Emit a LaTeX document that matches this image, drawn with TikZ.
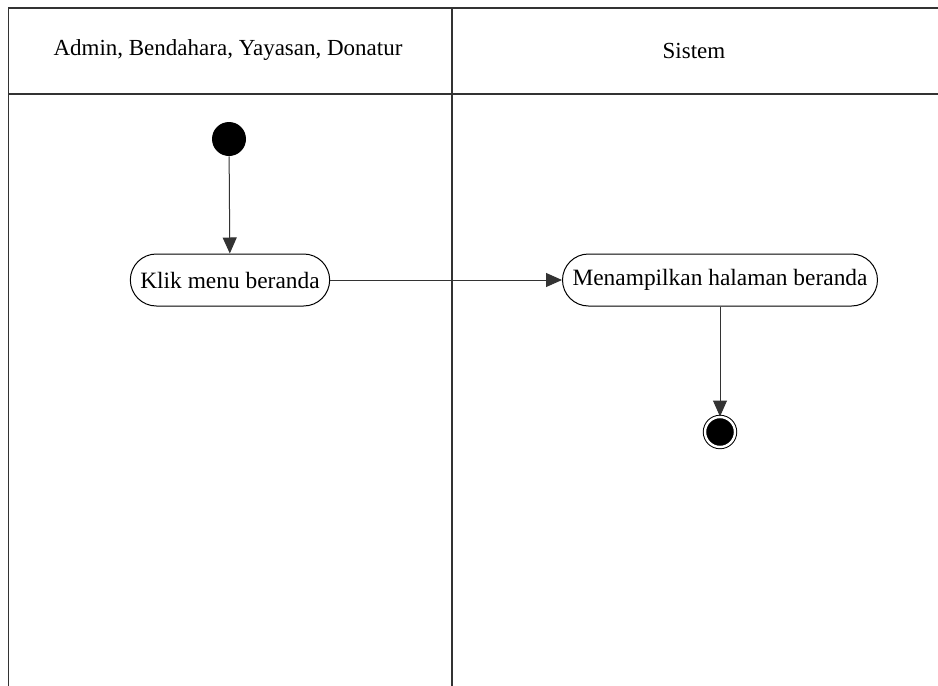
\documentclass[tikz,border=0pt]{standalone}
\usepackage{fontspec}
\setmainfont{Liberation Serif}
\usetikzlibrary{
  arrows.meta,
  positioning
}

\begin{document}
\begin{tikzpicture}[
    x=0.5pt, y=-0.5pt,
    lane/.style={draw=black!80, line width=0.8pt},
    action/.style={
      rectangle, rounded corners=13pt, draw, line width=0.5pt,
      minimum height=26pt, inner xsep=5pt, font=\fontsize{11.7}{13}\selectfont
    },
    initial/.style={circle, fill=black, minimum size=17pt, inner sep=0pt},
    final/.style={circle, draw, fill=black, line width=0.5pt, double=white,
      double distance=1.2pt, minimum size=15pt, inner sep=0pt},
    header/.style={font=\fontsize{11.5}{13}\selectfont},
    flow/.style={-{Triangle[length=8pt,width=7pt]}, line width=0.5pt, draw=black!80}
  ]
  \useasboundingbox (0,0) rectangle (938,686);

  %% --- swimlanes ---
  \draw[lane] (8.5,686) -- (8.5,8) -- (938,8);
  \draw[lane] (8.5,94) -- (938,94);
  \draw[lane] (452,8) -- (452,686);
  \node[header] (actor) at (228,50) {Admin, Bendahara, Yayasan, Donatur};
  \node[header] (sistem) at (694,51) {Sistem};

  %% --- activities ---
  \node[initial] (start) at (229,139) {};
  \node[action] (klik) at (230,280) {Klik menu beranda};
  \node[action] (tampil) at (720,280) {Menampilkan halaman beranda};
  \node[final] (end) at (720,432) {};

  %% --- arrows ---
  \draw[flow] (start) -- (klik);
  \draw[flow] (klik.east) -- (tampil.west);
  \draw[flow] (tampil) -- (end);
\end{tikzpicture}
\end{document}
